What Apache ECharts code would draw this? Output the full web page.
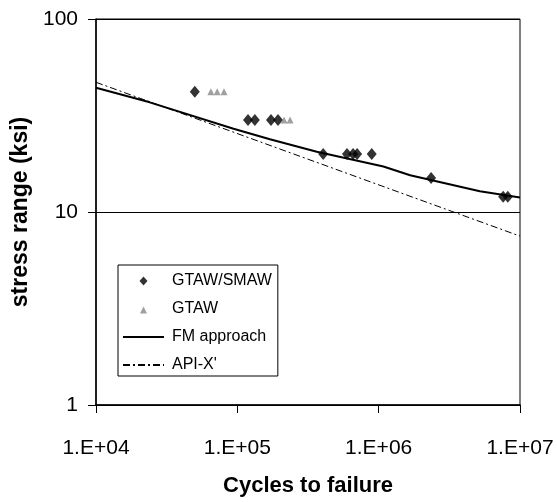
<!DOCTYPE html>
<html>
<head>
<meta charset="utf-8">
<script src="https://cdn.jsdelivr.net/npm/echarts@6/dist/echarts.min.js"></script>
<style>html,body{margin:0;padding:0;background:#fff}#c{width:557px;height:502px}</style>
</head>
<body>
<div id="c"></div>
<script>
var gtawSmawX = [50000, 119000, 133000, 173000, 194000, 405000, 597000, 659000, 704000, 893000, 2350000, 7600000, 8200000];
var gtawSmawY = [42, 30, 30, 30, 30, 20, 20, 20, 20, 20, 15, 12, 12];
var gtawX = [65000, 72000, 80500, 214000, 236000];
var gtawY = [42, 42, 42, 30, 30];
var fmX = [10000, 24000, 94000, 170000, 365000, 1080000, 1670000, 5200000, 10000000];
var fmY = [44, 37, 27, 23.8, 20.5, 17.2, 15.5, 12.8, 11.9];
var apiX = [10000, 10000000];
var apiY = [47, 7.5];
var seriesNames = ['GTAW/SMAW', 'GTAW', 'FM approach', 'API-X\''];
var xTitle = 'Cycles to failure';
var yTitle = 'stress range (ksi)';

function zip(a, b) { return a.map(function (v, i) { return [v, b[i]]; }); }

var chart = echarts.init(document.getElementById('c'));
var font = 'Liberation Sans, Arial, sans-serif';
var hideSym = { color: 'rgba(0,0,0,0)', borderWidth: 0 };
var diamondIcon = 'path://M0,0M41,9M16.5,4.5L20.5,0L24.5,4.5L20.5,9Z';
var triangleIcon = 'path://M0,0M41,9M17,9L20.5,2L24,9Z';
chart.setOption({
  animation: false,
  backgroundColor: '#fff',
  grid: { left: 96, right: 37, top: 19, bottom: 93, show: true, borderColor: '#000', borderWidth: 1, backgroundColor: 'transparent' },
  xAxis: {
    type: 'log', logBase: 10, min: 10000, max: 10000000,
    name: xTitle, nameLocation: 'middle', nameGap: 70,
    nameTextStyle: { fontFamily: font, fontSize: 22, fontWeight: 'bold', color: '#000' },
    axisLine: { lineStyle: { color: '#000', width: 1.5 } },
    axisTick: { show: true, length: 8, lineStyle: { color: '#000' } },
    axisLabel: { margin: 33, fontFamily: font, fontSize: 21, color: '#000',
      formatter: function (v) { return '1.E+0' + Math.round(Math.log10(v)); } },
    splitLine: { show: false },
    minorTick: { show: false }
  },
  yAxis: {
    type: 'log', logBase: 10, min: 1, max: 100,
    name: yTitle, nameLocation: 'middle', nameGap: 63,
    nameTextStyle: { fontFamily: font, fontSize: 23, fontWeight: 'bold', color: '#000' },
    axisLine: { show: true, lineStyle: { color: '#000', width: 1.5 } },
    axisTick: { show: true, length: 8, lineStyle: { color: '#000' } },
    axisLabel: { margin: 18, fontFamily: font, fontSize: 21, color: '#000' },
    splitLine: { show: true, lineStyle: { color: '#000', width: 1 } }
  },
  legend: {
    orient: 'vertical', left: 118, top: 265,
    backgroundColor: '#fff', borderColor: '#000', borderWidth: 1,
    padding: [8, 6, 3, 4],
    itemWidth: 41, itemHeight: 9, itemGap: 12,
    textStyle: { fontFamily: font, fontSize: 16, color: '#000', lineHeight: 12, padding: [0, 0, 0, 3] },
    data: [
      { name: seriesNames[0], icon: diamondIcon },
      { name: seriesNames[1], icon: triangleIcon },
      { name: seriesNames[2], itemStyle: hideSym },
      { name: seriesNames[3], itemStyle: hideSym }
    ]
  },
  series: [
    { name: seriesNames[2], type: 'line', data: zip(fmX, fmY), symbol: 'none', smooth: false,
      lineStyle: { color: '#000', width: 2 }, itemStyle: { color: '#000' }, z: 2 },
    { name: seriesNames[3], type: 'line', data: zip(apiX, apiY), symbol: 'none',
      lineStyle: { color: '#000', width: 1, type: [7, 3, 2, 3] }, itemStyle: { color: '#000' }, z: 2 },
    { name: seriesNames[0], type: 'scatter', data: zip(gtawSmawX, gtawSmawY), symbol: 'diamond', symbolSize: [10, 12],
      itemStyle: { color: '#000' }, z: 3 },
    { name: seriesNames[1], type: 'scatter', data: zip(gtawX, gtawY), symbol: 'triangle', symbolSize: 7,
      itemStyle: { color: '#888' }, z: 3 }
  ]
});
</script>
</body>
</html>
